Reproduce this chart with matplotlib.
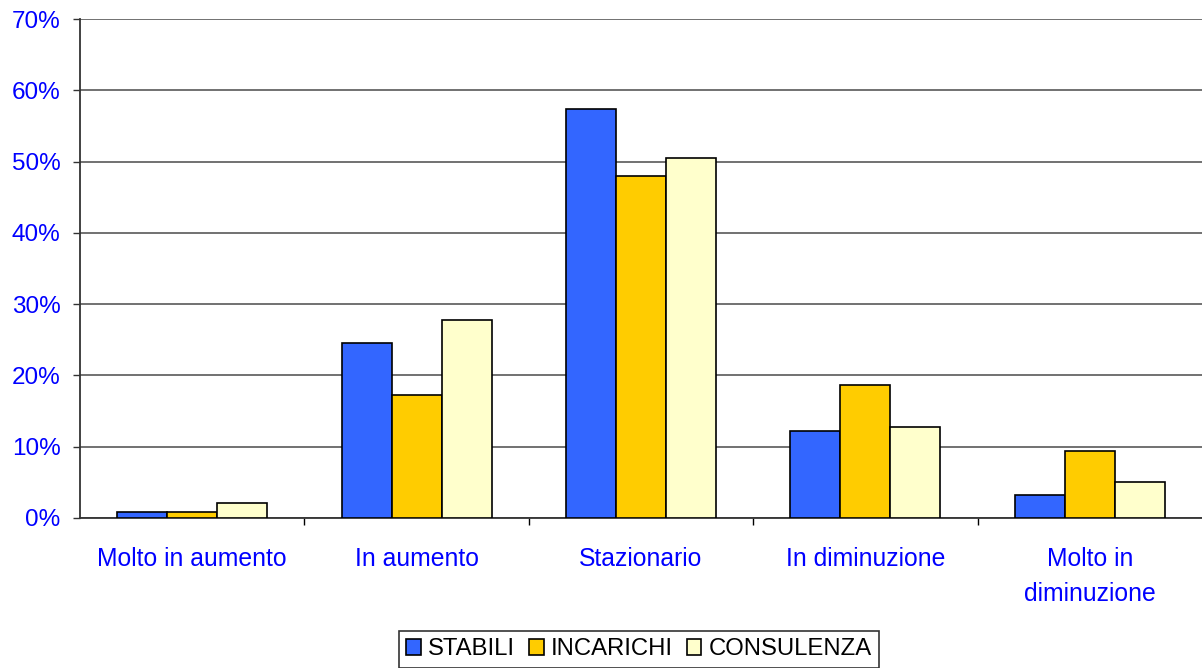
import numpy as np
import matplotlib.pyplot as plt
from matplotlib.ticker import PercentFormatter

plt.rcParams['font.family'] = ['Liberation Sans', 'DejaVu Sans']

categorie = ['Molto in aumento', 'In aumento', 'Stazionario', 'In diminuzione', 'Molto in\ndiminuzione']
stabili = [0.8, 24.5, 57.4, 12.2, 3.2]
incarichi = [0.8, 17.3, 48.0, 18.7, 9.4]
consulenza = [2.1, 27.8, 50.5, 12.8, 5.0]

serie = ['STABILI', 'INCARICHI', 'CONSULENZA']
colori = ['#3366FF', '#FFCC00', '#FFFFCC']

fig = plt.figure(figsize=(12.02, 6.68), dpi=100)
ax = fig.add_axes([80 / 1202, 150 / 668, 1122 / 1202, 499 / 668])

x = np.arange(len(categorie))
w = 0.223
for i, (vals, nome, col) in enumerate(zip([stabili, incarichi, consulenza], serie, colori)):
    ax.bar(x + (i - 1) * w, vals, w, color=col, edgecolor='black', linewidth=1.2, label=nome, zorder=3)

ax.set_xlim(-0.5, len(categorie) - 0.5)
ax.set_ylim(0, 70)
ax.set_yticks(np.arange(0, 71, 10))
ax.yaxis.set_major_formatter(PercentFormatter(decimals=0))
ax.grid(axis='y', color='#666666', linewidth=1.3, zorder=0)

ax.set_xticks(x)
ax.set_xticklabels(categorie, color='#0000FF', fontsize=17.8, linespacing=1.55)
ax.tick_params(axis='x', length=0, pad=21)
ax.set_xticks(np.arange(0.5, len(categorie) - 0.5, 1), minor=True)
ax.tick_params(axis='x', which='minor', length=5, width=1, color='black')
ax.tick_params(axis='y', labelcolor='#0000FF', labelsize=17.5, length=5, width=1, color='#333333', pad=9)

for s in ['top', 'right']:
    ax.spines[s].set_visible(False)
ax.spines['left'].set_color('#333333')
ax.spines['left'].set_linewidth(1.3)
ax.spines['bottom'].set_color('#333333')
ax.spines['bottom'].set_linewidth(1.3)

leg = ax.legend(loc='upper center', bbox_to_anchor=(559 / 1122, -0.227), ncol=3, fontsize=17.2,
                frameon=True, fancybox=False, edgecolor='black', handlelength=0.6, handleheight=0.6,
                handletextpad=0.3, columnspacing=0.6, borderpad=0.3, borderaxespad=0)
leg.get_frame().set_linewidth(1.2)

fig.savefig('out.png', dpi=100)
